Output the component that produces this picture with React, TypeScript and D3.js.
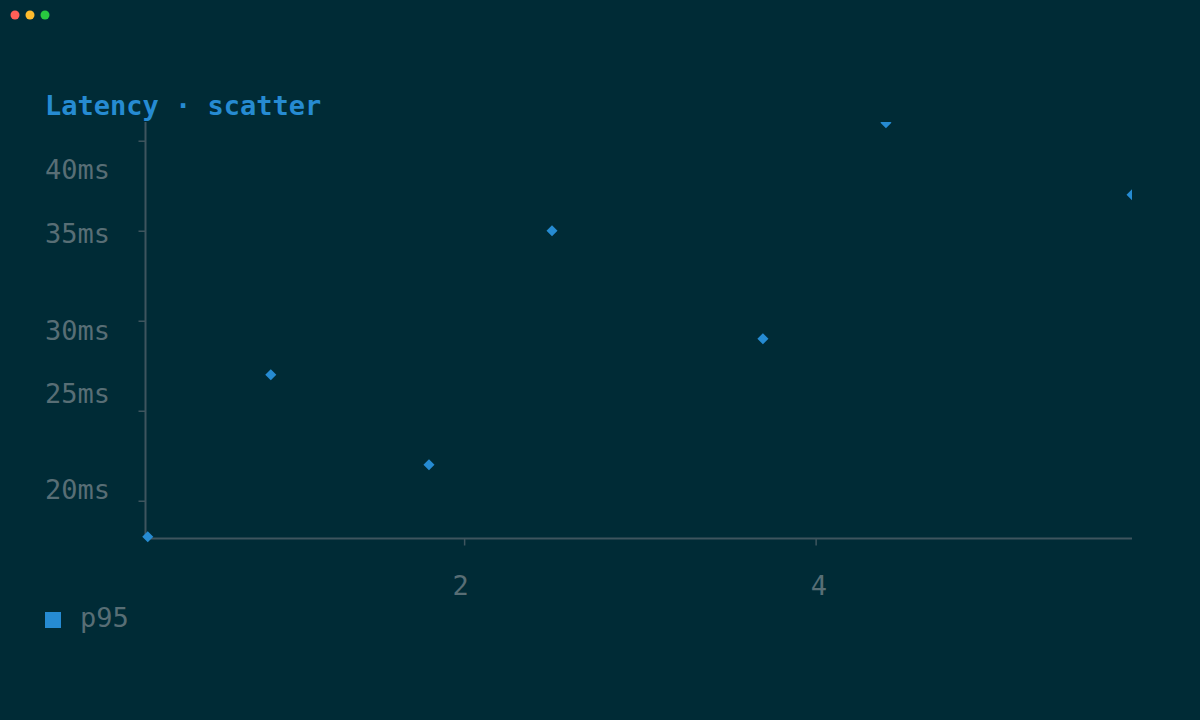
import * as d3 from "d3";
import React, { useEffect, useRef } from "react";

// p95 latency samples
const seriesName = "p95";
const xValues = [0.2, 0.9, 1.8, 2.5, 3.7, 4.4, 5.8];
const yValues = [18, 27, 22, 35, 29, 41, 37];
const yTicks = [20, 25, 30, 35, 40];
const xTicks = [2, 4];

// the tick labels sit a little off their ticks in the original
const yLabelNudge = [-11.7, -17.7, 9.3, 2.3, 28.3];
const xLabelNudge = [-3.6, 3.3];

const width = 1200;
const height = 720;
const bg = "#002b36";
const blue = "#268bd2";
const muted = "#586e75";
const axisColor = "#3e555e";
const font = "'DejaVu Sans Mono', monospace";

export default function App() {
  const ref = useRef<SVGSVGElement | null>(null);

  useEffect(() => {
    const svg = d3.select(ref.current);
    svg.selectAll("*").remove();

    const left = 146;
    const right = 1132;
    const top = 122;
    const bottom = 538;

    const x = d3.scaleLinear().domain([0.19, 5.8]).range([left, right]);
    const y = d3.scaleLinear().domain([17.93, 41.04]).range([bottom, top]);

    svg.append("rect").attr("width", width).attr("height", height).attr("fill", bg);

    // window dots
    const dots = ["#ff5f57", "#febc2e", "#28c840"];
    svg
      .selectAll("circle.dot")
      .data(dots)
      .join("circle")
      .attr("class", "dot")
      .attr("cx", (d, i) => 15 + i * 15)
      .attr("cy", 15)
      .attr("r", 4.5)
      .attr("fill", (d) => d);

    svg
      .append("text")
      .attr("x", 45)
      .attr("y", 114.5)
      .attr("fill", blue)
      .style("font-family", font)
      .style("font-size", "27px")
      .style("font-weight", "bold")
      .text("Latency · scatter");

    // axes
    const yAxis = svg
      .append("g")
      .attr("transform", `translate(${left - 0.5},0)`)
      .call(
        d3
          .axisLeft(y)
          .tickValues(yTicks)
          .tickSize(7)
          .tickSizeOuter(0)
          .tickFormat(() => "")
      );
    yAxis.select(".domain").attr("stroke", axisColor).attr("stroke-width", 2)
      .attr("d", `M0,${top}V${bottom + 0.5}`);
    yAxis.selectAll(".tick line").attr("stroke", axisColor).attr("stroke-width", 1.5);

    const xAxis = svg
      .append("g")
      .attr("transform", `translate(0,${bottom + 0.5})`)
      .call(
        d3
          .axisBottom(x)
          .tickValues(xTicks)
          .tickSize(7)
          .tickSizeOuter(0)
          .tickFormat(() => "")
      );
    xAxis.select(".domain").attr("stroke", axisColor).attr("stroke-width", 2)
      .attr("d", `M${left - 0.5},0H${right}`);
    xAxis.selectAll(".tick line").attr("stroke", axisColor).attr("stroke-width", 1.5);

    svg
      .append("g")
      .selectAll("text")
      .data(yTicks)
      .join("text")
      .attr("x", 45)
      .attr("y", (d, i) => y(d) + yLabelNudge[i])
      .attr("dominant-baseline", "central")
      .attr("fill", muted)
      .style("font-family", font)
      .style("font-size", "27px")
      .text((d) => `${d}ms`);

    svg
      .append("g")
      .selectAll("text")
      .data(xTicks)
      .join("text")
      .attr("x", (d, i) => x(d) + xLabelNudge[i])
      .attr("y", 595)
      .attr("text-anchor", "middle")
      .attr("fill", muted)
      .style("font-family", font)
      .style("font-size", "27px")
      .text((d) => String(d));

    // points, clipped at the top/right edge of the plot
    svg
      .append("clipPath")
      .attr("id", "plot-clip")
      .append("rect")
      .attr("x", 120)
      .attr("y", top)
      .attr("width", right - 120)
      .attr("height", bottom - top + 30);

    const diamond = (d3 as any).symbolDiamond2 || d3.symbolDiamond;
    const sym = d3.symbol().type(diamond).size(78);
    const points = xValues.map((v, i) => ({ x: v, y: yValues[i] }));

    svg
      .append("g")
      .attr("clip-path", "url(#plot-clip)")
      .selectAll("path")
      .data(points)
      .join("path")
      .attr("transform", (d) => `translate(${x(d.x)},${y(d.y)})`)
      .attr("d", sym)
      .attr("fill", blue);

    // legend
    svg
      .append("rect")
      .attr("x", 45)
      .attr("y", 612)
      .attr("width", 16)
      .attr("height", 16)
      .attr("fill", blue);
    svg
      .append("text")
      .attr("x", 80)
      .attr("y", 627)
      .attr("fill", muted)
      .style("font-family", font)
      .style("font-size", "27px")
      .text(seriesName);
  }, []);

  return (
    <div style={{ position: "fixed", left: 0, top: 0, width, height, background: bg }}>
      <svg ref={ref} width={width} height={height} style={{ display: "block" }} />
    </div>
  );
}
